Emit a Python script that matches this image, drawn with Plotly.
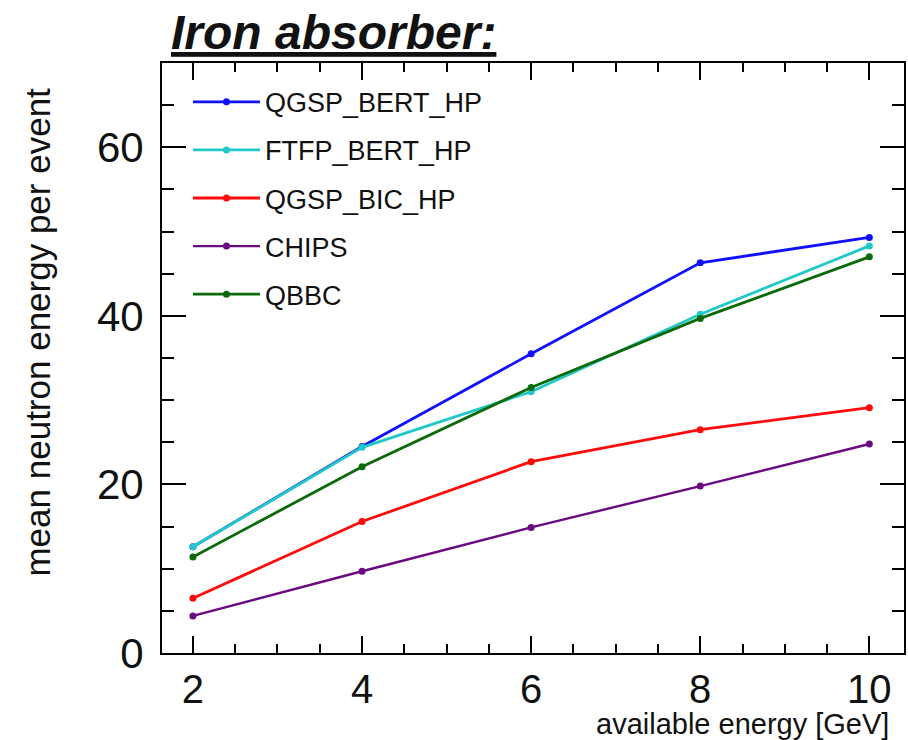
import plotly.graph_objects as go

energies = [2, 4, 6, 8, 10]
qgsp_bert_hp = [12.6, 24.5, 35.5, 46.3, 49.3]
ftfp_bert_hp = [12.6, 24.4, 31.0, 40.2, 48.3]
qgsp_bic_hp = [6.5, 15.6, 22.7, 26.5, 29.1]
chips = [4.4, 9.7, 14.9, 19.8, 24.8]
qbbc = [11.4, 22.1, 31.5, 39.7, 47.0]

series = [
    ("QGSP_BERT_HP", qgsp_bert_hp, "#1010ff", 2.8),
    ("FTFP_BERT_HP", ftfp_bert_hp, "#20c8c8", 2.8),
    ("QGSP_BIC_HP", qgsp_bic_hp, "#ff0a0a", 2.8),
    ("CHIPS", chips, "#6a0a80", 2.4),
    ("QBBC", qbbc, "#0a6a0a", 2.8),
]

fig = go.Figure()
for i, (name, ys, col, w) in enumerate(series):
    fig.add_trace(go.Scatter(
        x=energies, y=ys, name=name, mode="lines+markers",
        line=dict(color=col, width=w),
        marker=dict(color=col, size=7, symbol="circle"),
        legendgroup=f"g{i}",
    ))

font_family = "Liberation Sans, Arial, sans-serif"

fig.update_layout(
    width=908, height=740,
    margin=dict(l=162, r=2, t=63, b=87),
    paper_bgcolor="white", plot_bgcolor="white",
    font=dict(family=font_family, color="#111111"),
    showlegend=True,
    legend=dict(
        x=0.035, y=0.975, xanchor="left", yanchor="top",
        font=dict(size=27, family=font_family, color="#111111"),
        bgcolor="rgba(0,0,0,0)", borderwidth=0,
        tracegroupgap=10, itemwidth=67,
    ),
    xaxis=dict(
        range=[1.634, 10.41], showgrid=False, zeroline=False,
        showline=True, linecolor="black", linewidth=2, mirror="allticks",
        tickmode="array", tickvals=[2, 4, 6, 8, 10],
        ticks="inside", ticklen=17, tickwidth=2, tickcolor="black",
        tickfont=dict(size=40, family=font_family, color="#111111"),
        ticklabelstandoff=0,
        minor=dict(dtick=0.5, tick0=0, ticks="inside", ticklen=9, tickwidth=2, tickcolor="black"),
    ),
    yaxis=dict(
        range=[0, 70], showgrid=False, zeroline=False,
        showline=True, linecolor="black", linewidth=2, mirror="allticks",
        tickmode="array", tickvals=[0, 20, 40, 60],
        ticks="inside", ticklen=24, tickwidth=2, tickcolor="black",
        tickfont=dict(size=42, family=font_family, color="#111111"),
        ticklabelstandoff=8,
        minor=dict(dtick=5, tick0=0, ticks="inside", ticklen=12, tickwidth=2, tickcolor="black"),
    ),
)

fig.add_annotation(
    text="<b><i><u>Iron absorber:</u></i></b>", xref="paper", yref="paper",
    x=0.01, y=1.0, xanchor="left", yanchor="bottom", yshift=2, showarrow=False,
    font=dict(size=48, family=font_family, color="#111111"),
)
fig.add_annotation(
    text="mean neutron energy per event", xref="paper", yref="paper",
    x=0, xshift=-146, y=0.544, xanchor="left", yanchor="middle", textangle=-90,
    showarrow=False, font=dict(size=35, family=font_family, color="#111111"),
)
fig.add_annotation(
    text="available energy [GeV]", xref="paper", yref="paper",
    x=0.9825, y=0, yshift=-71, xanchor="right", yanchor="middle",
    showarrow=False, font=dict(size=29, family=font_family, color="#111111"),
)

fig.write_html("out.html")
